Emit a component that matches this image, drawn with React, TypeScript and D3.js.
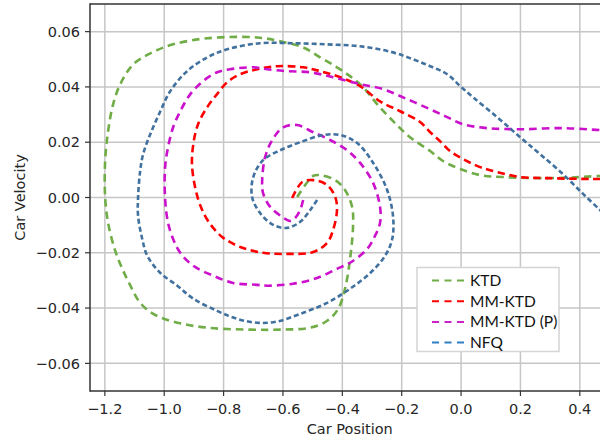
import React from 'react';
import * as d3 from 'd3';

// trajectories: [position, velocity]
const ktd: [number, number][] = [
  [-0.552, 0.0002], [-0.498, 0.0078], [-0.475, 0.0081], [-0.424, 0.0063], [-0.391, 0.0027],
  [-0.367, -0.0034], [-0.364, -0.0106], [-0.374, -0.0222], [-0.391, -0.033], [-0.414, -0.0403],
  [-0.451, -0.0446], [-0.508, -0.0471], [-0.609, -0.0478], [-0.71, -0.0478], [-0.855, -0.0471],
  [-0.97, -0.0449], [-1.037, -0.0421], [-1.081, -0.0381], [-1.114, -0.0319], [-1.141, -0.0258],
  [-1.165, -0.0193], [-1.189, -0.0092], [-1.199, 0.0002], [-1.199, 0.0132], [-1.189, 0.024],
  [-1.172, 0.0338], [-1.148, 0.041], [-1.104, 0.0482], [-1.04, 0.0525], [-0.97, 0.0554],
  [-0.855, 0.0576], [-0.687, 0.0579], [-0.609, 0.0565], [-0.532, 0.0543], [-0.475, 0.0507],
  [-0.418, 0.0471], [-0.374, 0.0439], [-0.33, 0.0399], [-0.283, 0.0338], [-0.229, 0.0276],
  [-0.172, 0.0218], [-0.104, 0.0168], [-0.061, 0.0132], [-0.003, 0.0103], [0.064, 0.0081],
  [0.141, 0.0074], [0.29, 0.007], [0.401, 0.0074], [0.468, 0.0078], [0.5, 0.0079],
];

const mmKtd: [number, number][] = [
  [-0.569, -0.0002], [-0.535, 0.0056], [-0.498, 0.0063], [-0.451, 0.0045], [-0.424, 0.0002],
  [-0.418, -0.0045], [-0.431, -0.0117], [-0.451, -0.0164], [-0.498, -0.0197], [-0.586, -0.0204],
  [-0.667, -0.02], [-0.744, -0.0179], [-0.801, -0.0146], [-0.835, -0.011], [-0.862, -0.0067],
  [-0.886, -0.0005], [-0.906, 0.011], [-0.902, 0.0193], [-0.886, 0.0265], [-0.855, 0.0327],
  [-0.822, 0.0374], [-0.788, 0.0417], [-0.744, 0.0446], [-0.687, 0.0464], [-0.62, 0.0475],
  [-0.532, 0.0471], [-0.475, 0.0457], [-0.407, 0.0435], [-0.34, 0.0403], [-0.273, 0.0348],
  [-0.205, 0.0312], [-0.138, 0.0273], [-0.104, 0.0236], [-0.071, 0.0204], [-0.037, 0.0168],
  [0.007, 0.0139], [0.064, 0.011], [0.121, 0.0092], [0.199, 0.0074], [0.29, 0.007],
  [0.434, 0.0067], [0.5, 0.0067],
];

const mmKtdP: [number, number][] = [
  [-0.532, -0.0009], [-0.542, -0.0045], [-0.559, -0.0074], [-0.576, -0.0085], [-0.603, -0.007],
  [-0.643, -0.0034], [-0.667, 0.0016], [-0.67, 0.0063], [-0.66, 0.0146], [-0.636, 0.0208],
  [-0.599, 0.0254], [-0.552, 0.0262], [-0.498, 0.0236], [-0.441, 0.0208], [-0.384, 0.0171],
  [-0.34, 0.0125], [-0.296, 0.0052], [-0.273, -0.0034], [-0.273, -0.0092], [-0.29, -0.0139],
  [-0.316, -0.0186], [-0.374, -0.0236], [-0.418, -0.0258], [-0.485, -0.0291], [-0.566, -0.0312],
  [-0.653, -0.0319], [-0.687, -0.0316], [-0.768, -0.0309], [-0.835, -0.0283], [-0.902, -0.0247],
  [-0.946, -0.02], [-0.97, -0.015], [-0.987, -0.0092], [-0.997, -0.0005], [-0.997, 0.011],
  [-0.987, 0.0182], [-0.97, 0.0254], [-0.946, 0.0312], [-0.912, 0.0374], [-0.869, 0.0421],
  [-0.822, 0.0453], [-0.778, 0.0464], [-0.7, 0.0471], [-0.653, 0.0464], [-0.586, 0.0457],
  [-0.508, 0.0453], [-0.431, 0.0435], [-0.34, 0.041], [-0.263, 0.0392], [-0.182, 0.0356],
  [-0.104, 0.0319], [-0.047, 0.0291], [0.007, 0.0265], [0.088, 0.0251], [0.199, 0.0247],
  [0.343, 0.0251], [0.468, 0.0244], [0.5, 0.0243],
];

const nfq: [number, number][] = [
  [-0.485, -0.0009], [-0.508, -0.0045], [-0.542, -0.0088], [-0.586, -0.011], [-0.633, -0.0099],
  [-0.677, -0.0056], [-0.704, 0.0002], [-0.7, 0.0074], [-0.667, 0.0135], [-0.609, 0.0171],
  [-0.542, 0.02], [-0.465, 0.0226], [-0.407, 0.0226], [-0.35, 0.0197], [-0.296, 0.0125],
  [-0.249, 0.0027], [-0.229, -0.007], [-0.232, -0.015], [-0.256, -0.0211], [-0.306, -0.0273],
  [-0.374, -0.033], [-0.451, -0.0381], [-0.542, -0.0421], [-0.62, -0.0449], [-0.687, -0.0453],
  [-0.754, -0.0439], [-0.822, -0.041], [-0.902, -0.0366], [-0.956, -0.0319], [-1.013, -0.0273],
  [-1.057, -0.0211], [-1.074, -0.015], [-1.088, -0.0067], [-1.088, 0.0002], [-1.081, 0.0096],
  [-1.071, 0.0157], [-1.047, 0.0229], [-1.013, 0.0312], [-0.98, 0.0384], [-0.923, 0.0457],
  [-0.855, 0.0507], [-0.788, 0.0536], [-0.677, 0.0558], [-0.566, 0.0558], [-0.451, 0.0554],
  [-0.34, 0.0547], [-0.229, 0.0525], [-0.162, 0.05], [-0.104, 0.0475], [-0.047, 0.0446],
  [-0.003, 0.0403], [0.04, 0.0363], [0.121, 0.0291], [0.199, 0.0218], [0.266, 0.0157],
  [0.343, 0.0085], [0.411, 0.0013], [0.468, -0.0045], [0.5, -0.0078],
];

const seriesNames = ['KTD', 'MM-KTD', 'MM-KTD (P)', 'NFQ'];
const xTicks = [-1.2, -1.0, -0.8, -0.6, -0.4, -0.2, 0.0, 0.2, 0.4];
const yTicks = [-0.06, -0.04, -0.02, 0.0, 0.02, 0.04, 0.06];

const styles = [
  { data: ktd, color: '#70ad47', legend: '#70ad47', dash: '7.5,5' },
  { data: mmKtd, color: '#ff0000', legend: '#ff0000', dash: '7.5,4.5' },
  { data: mmKtdP, color: '#cc11cc', legend: '#cc22cc', dash: '7.5,5' },
  { data: nfq, color: '#41719f', legend: '#2e7fc4', dash: '5,3' },
];

const W = 600;
const H = 440;
const left = 90, top = 4, bottom = 391, right = 609.5;

export default function App() {
  const x = d3.scaleLinear().domain([-1.25, 0.5]).range([left, right]);
  const y = d3.scaleLinear().domain([-0.07, 0.07]).range([bottom, top]);
  const line = d3.line<[number, number]>()
    .x(d => x(d[0]))
    .y(d => y(d[1]))
    .curve(d3.curveCatmullRom.alpha(0.5));

  const minus = (s: string) => s.replace('-', '\u2212');
  const tickFont = '"DejaVu Sans", sans-serif';

  return (
    <svg width={W} height={H} style={{ position: 'absolute', left: 0, top: 0, background: '#fff' }}>
      <defs>
        <clipPath id="plot">
          <rect x={left} y={top} width={right - left} height={bottom - top} />
        </clipPath>
      </defs>
      <rect x={0} y={0} width={W} height={H} fill="#fff" />

      {/* grid */}
      <g stroke="#c6c6c6" strokeWidth={1.5}>
        {xTicks.map(t => (
          <line key={'gx' + t} x1={x(t)} x2={x(t)} y1={top} y2={bottom} />
        ))}
        {yTicks.map(t => (
          <line key={'gy' + t} x1={left} x2={W} y1={y(t)} y2={y(t)} />
        ))}
      </g>

      {/* curves */}
      <g clipPath="url(#plot)" fill="none">
        {styles.map((s, i) => (
          <path key={i} d={line(s.data) || ''} stroke={s.color} strokeWidth={2.6} strokeDasharray={s.dash} />
        ))}
      </g>

      {/* spines */}
      <g stroke="#333" strokeWidth={1.5}>
        <line x1={left} x2={left} y1={top - 0.75} y2={bottom + 0.75} />
        <line x1={left} x2={W} y1={top} y2={top} />
        <line x1={left} x2={W} y1={bottom} y2={bottom} />
      </g>

      {/* axes */}
      <g fontFamily={tickFont} fontSize={14.5} fill="#262626">
        {xTicks.map(t => (
          <g key={'tx' + t}>
            <line x1={x(t)} x2={x(t)} y1={bottom} y2={bottom + 5} stroke="#333" strokeWidth={1.2} />
            <text x={x(t)} y={414} textAnchor="middle">{minus(t.toFixed(1))}</text>
          </g>
        ))}
        {yTicks.map(t => (
          <g key={'ty' + t}>
            <line x1={left - 5} x2={left} y1={y(t)} y2={y(t)} stroke="#333" strokeWidth={1.2} />
            <text x={left - 10} y={y(t)} dy="0.36em" textAnchor="end">{minus(t.toFixed(2))}</text>
          </g>
        ))}
        <text x={(left + right) / 2} y={434} textAnchor="middle" fontSize={14.5}>Car Position</text>
        <text transform={`translate(25,${(top + bottom) / 2}) rotate(-90)`} textAnchor="middle" fontSize={14.5}>Car Velocity</text>
      </g>

      {/* legend */}
      <g>
        <rect x={417} y={267.5} width={142} height={84} fill="#fff" stroke="#d4d4d4" strokeWidth={1.5} />
        {seriesNames.map((n, i) => {
          const ly = 280.5 + i * 20.7;
          return (
            <g key={n}>
              <line x1={432} x2={464} y1={ly} y2={ly} stroke={styles[i].legend} strokeWidth={2} strokeDasharray="7,5.5" />
              <text x={470} y={ly} dy="0.36em" fontFamily="Lato, sans-serif" fontSize={15.5} fill="#111">{n}</text>
            </g>
          );
        })}
      </g>
    </svg>
  );
}
